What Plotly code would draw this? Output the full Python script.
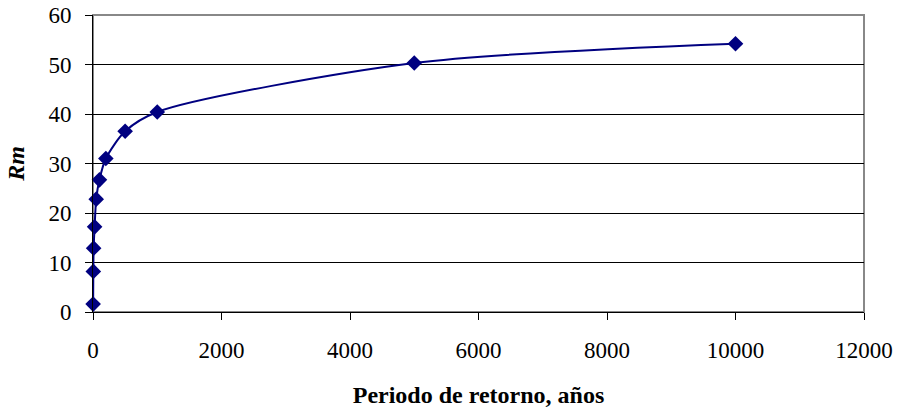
import plotly.graph_objects as go

periodo = [2, 5, 10, 25, 50, 100, 200, 500, 1000, 5000, 10000]
rm = [1.6, 8.2, 12.9, 17.2, 22.8, 26.7, 31.0, 36.5, 40.4, 50.3, 54.2]

x_ticks = [0, 2000, 4000, 6000, 8000, 10000, 12000]
y_ticks = [0, 10, 20, 30, 40, 50, 60]

font_family = "Liberation Serif"
tick_font = dict(family=font_family, size=23, color="black")
title_font = dict(family=font_family, size=24, color="black")

fig = go.Figure()
fig.add_trace(go.Scatter(
    x=periodo, y=rm, mode="lines+markers",
    line=dict(color="#000080", width=2, shape="spline", smoothing=0.8),
    marker=dict(symbol="diamond", size=12, color="#000080"),
    showlegend=False, cliponaxis=False,
))

fig.add_shape(type="rect", xref="x domain", yref="y domain", x0=0, x1=1, y0=0, y1=1,
              line=dict(color="#888888", width=2), layer="below")

fig.update_layout(
    width=900, height=412,
    margin=dict(l=93, r=36, t=15, b=100),
    paper_bgcolor="white", plot_bgcolor="white",
    font=dict(family=font_family, size=23, color="black"),
)
fig.update_xaxes(
    range=[0, 12000], tickvals=x_ticks, ticktext=[str(v) for v in x_ticks],
    tickfont=tick_font, ticklabelstandoff=10,
    showgrid=False, zeroline=False, automargin=False,
    showline=True, linecolor="black", linewidth=1,
    ticks="outside", ticklen=7, tickcolor="black",
    title=dict(text="<b>Periodo de retorno, años</b>", standoff=24, font=title_font),
)
fig.update_yaxes(
    range=[0, 60], tickvals=y_ticks, ticktext=[str(v) for v in y_ticks],
    tickfont=tick_font, ticklabelstandoff=9,
    showgrid=True, gridcolor="black", gridwidth=1, zeroline=False, automargin=False,
    showline=True, linecolor="black", linewidth=1,
    ticks="outside", ticklen=7, tickcolor="black",
    title=dict(text="<b><i>Rm</i></b>", standoff=17, font=title_font),
)

fig.write_html("out.html", config={"displayModeBar": False},
               post_script="document.body.style.margin='0';")
